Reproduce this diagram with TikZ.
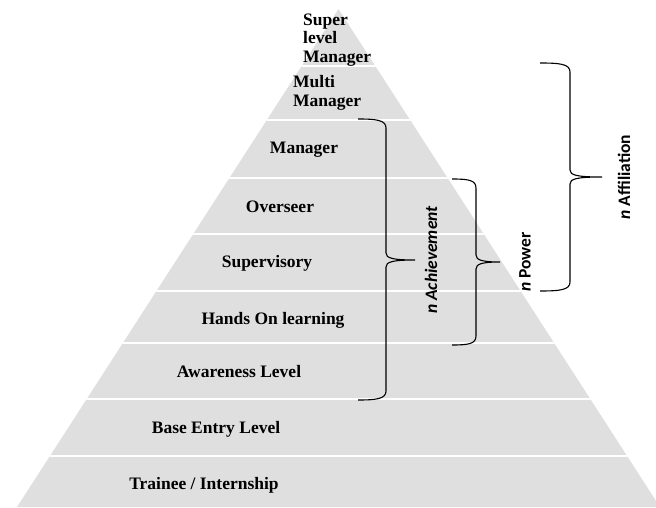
\documentclass[tikz,border=0pt]{standalone}
\usepackage{fontspec}
\setmainfont{Liberation Serif}
\newfontfamily\motivefont{Carlito}
\definecolor{pyrgray}{RGB}{223,223,223}

\begin{document}
\begin{tikzpicture}[x=1pt,y=1pt,
  level/.style={font=\fontsize{17.5}{18.5}\selectfont\bfseries,inner sep=0pt},
  motive/.style={font=\motivefont\fontsize{17.5}{18.5}\selectfont\bfseries,rotate=90,inner sep=0pt},
  curly/.style={black,line width=1.1pt}]
\useasboundingbox (0,0) rectangle (656,507);
% pyramid and the white bands between levels
\begin{scope}
\clip (0,0) rectangle (656,507);
\fill[pyrgray] (17,0) -- (338.5,498) -- (660,0) -- cycle;
\clip (17,0) -- (338.5,498) -- (660,0) -- cycle;
\foreach \y in {51,108,164,216,273,329,387,441}
  \draw[white,line width=1.6pt] (0,\y) -- (656,\y);
\end{scope}
% levels, top to bottom
\node[level,anchor=west,align=left] (super) at (303,467) {Super\\level\\Manager};
\node[level,anchor=west,align=left] (multi) at (293,414) {Multi\\Manager};
\node[level] (manager) at (304,357) {Manager};
\node[level] (overseer) at (280,300) {Overseer};
\node[level] (superv) at (267,244) {Supervisory};
\node[level] (handson) at (273,187) {Hands On learning};
\node[level] (aware) at (239,135) {Awareness Level};
\node[level] (base) at (216,78) {Base Entry Level};
\node[level] (trainee) at (204,22) {Trainee / Internship};
% braces
\draw[curly] (358,388) .. controls (376,388) and (386,387) .. (386,379) -- (386,254)
  .. controls (386,249) and (392,247) .. (415,247)
  .. controls (392,247) and (386,245) .. (386,240) -- (386,116)
  .. controls (386,108) and (376,107) .. (358,107);
\draw[curly] (452,328) .. controls (468,328) and (476,327) .. (476,319) -- (476,252)
  .. controls (476,247) and (482,245) .. (500,245)
  .. controls (482,245) and (476,243) .. (476,238) -- (476,171)
  .. controls (476,163) and (468,162) .. (452,162);
\draw[curly] (540,444) .. controls (560,444) and (570,443) .. (570,435) -- (570,337)
  .. controls (570,332) and (576,330) .. (602,330)
  .. controls (576,330) and (570,328) .. (570,323) -- (570,225)
  .. controls (570,217) and (560,216) .. (540,216);
\node[motive] (achieve) at (431,247) {\itshape n Achievement};
\node[motive] (power) at (525,245) {\textit{n} Power};
\node[motive] (affil) at (624,330) {\textit{n} Affiliation};
\end{tikzpicture}
\end{document}
